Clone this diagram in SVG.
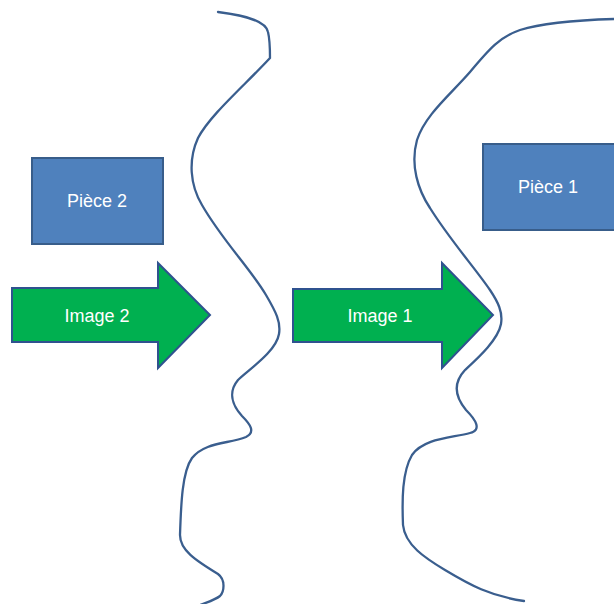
<svg xmlns="http://www.w3.org/2000/svg" width="614" height="604" viewBox="0 0 614 604">
  <style>
    .box { fill: #4F81BD; stroke: #385D8A; stroke-width: 2; }
    .arrow { fill: #00B050; stroke: #2F528F; stroke-width: 2; stroke-linejoin: miter; }
    .profile { fill: none; stroke: #3A5E8E; stroke-width: 2.3; stroke-linecap: round; stroke-linejoin: round; }
    .label { fill: #FFFFFF; font-family: "Liberation Sans", Arial, sans-serif; font-size: 18px; text-anchor: middle; }
  </style>
  <rect width="614" height="604" fill="#FFFFFF"/>

  <g id="profiles">
    <path id="profile-left" class="profile" d="M 218,12 C 250,16 266,22 268,32 C 270,40 270,50 270,58 C 245,85 210,115 198,138 C 188,160 190,185 202,205 C 222,240 250,268 266,295 C 276,312 281,322 279,334 C 276,352 248,370 238,380 C 228,392 232,405 242,416 C 250,424 256,432 246,437 C 228,444 205,442 192,458 C 182,472 181,505 180,535 C 180,550 195,560 218,574 C 226,580 224,592 220,596 C 215,600 208,602 200,605"/>
    <path id="profile-right" class="profile" d="M 614,19 C 580,20 545,22 520,30 C 500,37 490,48 470,72 C 450,95 425,115 417,140 C 410,165 418,190 430,208 C 450,240 475,268 490,290 C 498,302 503,312 501,324 C 498,340 478,358 465,370 C 452,384 456,398 466,410 C 476,420 482,430 470,433 C 452,438 424,438 412,455 C 402,472 402,500 403,525 C 405,545 425,558 445,570 C 470,585 490,596 524,601"/>
  </g>

  <g id="piece-2">
    <rect class="box" x="32" y="158" width="131" height="86"/>
    <text class="label" x="97" y="207">Pièce 2</text>
  </g>

  <g id="piece-1">
    <rect class="box" x="483" y="144" width="132" height="86"/>
    <text class="label" x="548" y="193">Pièce 1</text>
  </g>

  <g id="image-2">
    <polygon class="arrow" points="12,288 158,288 158,263 210,315 158,368 158,342 12,342"/>
    <text class="label" x="97" y="322">Image 2</text>
  </g>

  <g id="image-1">
    <polygon class="arrow" points="293,289 442,289 442,263 493,315 442,368 442,342 293,342"/>
    <text class="label" x="380" y="322">Image 1</text>
  </g>
</svg>
